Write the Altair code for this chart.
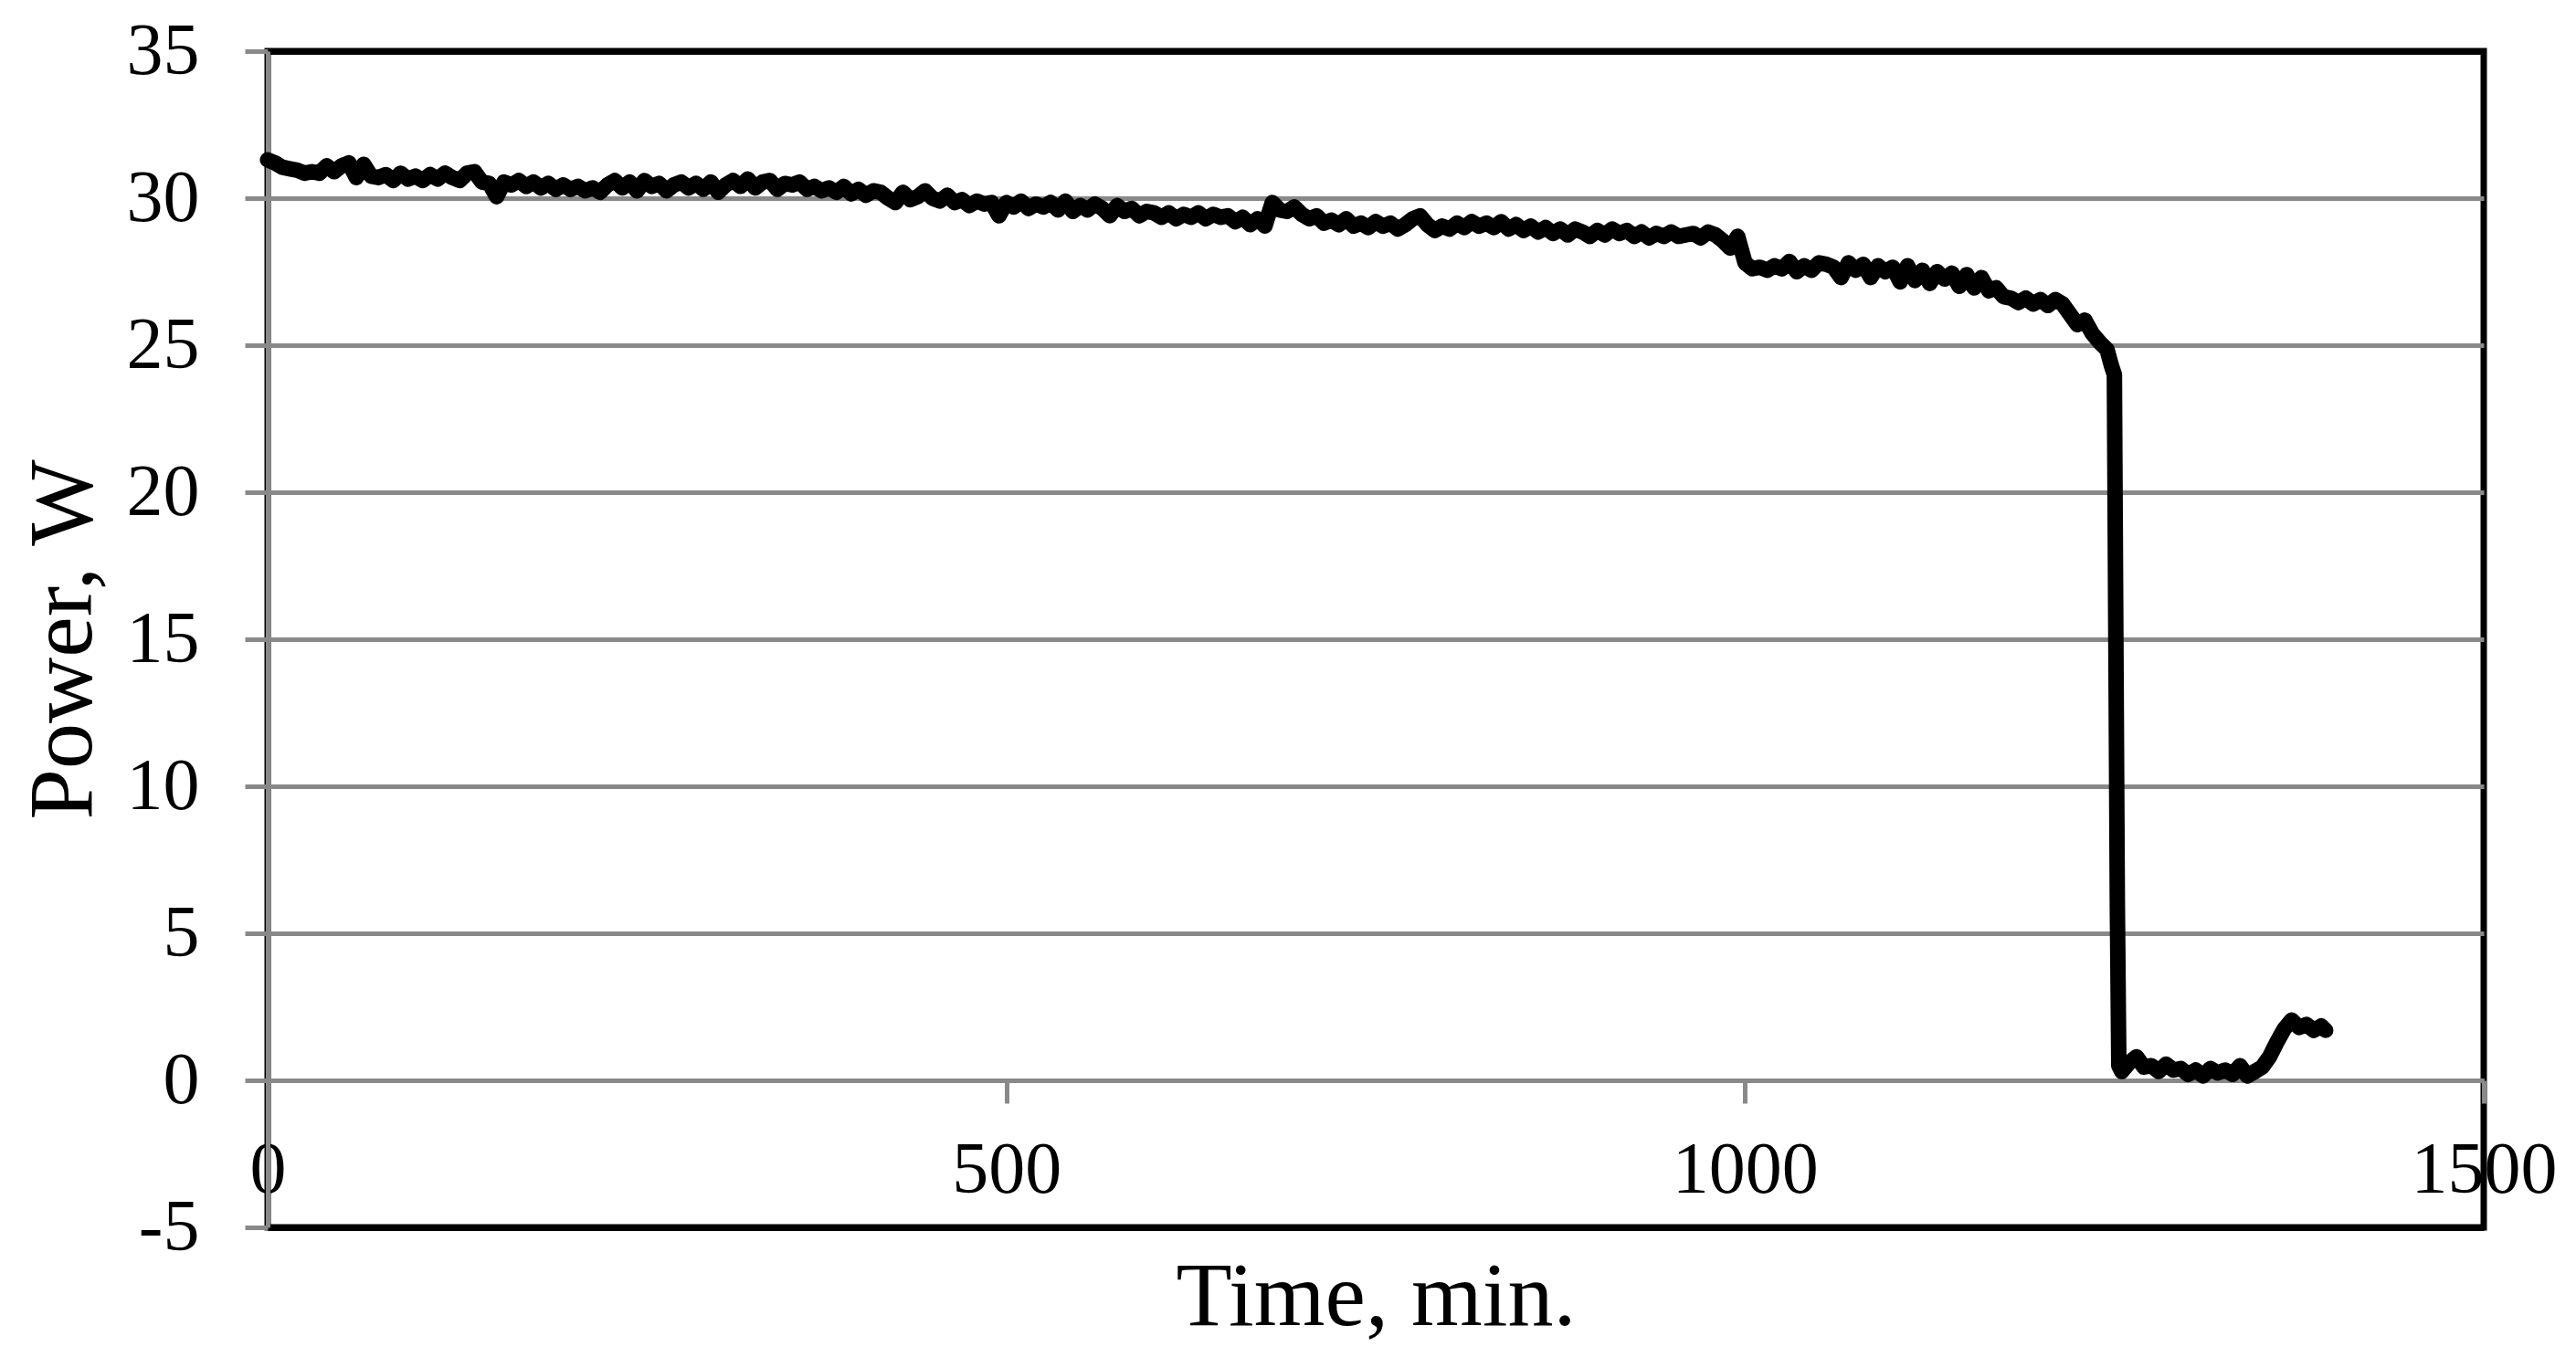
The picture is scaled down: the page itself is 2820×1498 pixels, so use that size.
import altair as alt
import pandas as pd

# ---- data ----
time_min = [
    0, 5, 10, 15, 20, 25, 30, 35, 40, 45,
    50, 55, 60, 65, 70, 75, 80, 85, 90, 95,
    100, 105, 110, 115, 120, 125, 130, 135, 140, 145,
    150, 155, 160, 165, 170, 175, 180, 185, 190, 195,
    200, 205, 210, 215, 220, 225, 230, 235, 240, 245,
    250, 255, 260, 265, 270, 275, 280, 285, 290, 295,
    300, 305, 310, 315, 320, 325, 330, 335, 340, 345,
    350, 355, 360, 365, 370, 375, 380, 385, 390, 395,
    400, 405, 410, 415, 420, 425, 430, 435, 440, 445,
    450, 455, 460, 465, 470, 475, 480, 485, 490, 495,
    500, 505, 510, 515, 520, 525, 530, 535, 540, 545,
    550, 555, 560, 565, 570, 575, 580, 585, 590, 595,
    600, 605, 610, 615, 620, 625, 630, 635, 640, 645,
    650, 655, 660, 665, 670, 675, 680, 685, 690, 695,
    700, 705, 710, 715, 720, 725, 730, 735, 740, 745,
    750, 755, 760, 765, 770, 775, 780, 785, 790, 795,
    800, 805, 810, 815, 820, 825, 830, 835, 840, 845,
    850, 855, 860, 865, 870, 875, 880, 885, 890, 895,
    900, 905, 910, 915, 920, 925, 930, 935, 940, 945,
    950, 955, 960, 965, 970, 975, 980, 985, 990, 995,
    1000, 1005, 1010, 1015, 1020, 1025, 1030, 1035, 1040, 1045,
    1050, 1055, 1060, 1065, 1070, 1075, 1080, 1085, 1090, 1095,
    1100, 1105, 1110, 1115, 1120, 1125, 1130, 1135, 1140, 1145,
    1150, 1155, 1160, 1165, 1170, 1175, 1180, 1185, 1190, 1195,
    1200, 1205, 1210, 1215, 1220, 1225, 1230, 1235, 1240, 1245,
    1248, 1250, 1251, 1252, 1253, 1255, 1260, 1265, 1270, 1275,
    1280, 1285, 1290, 1295, 1300, 1305, 1310, 1315, 1320, 1325,
    1330, 1335, 1340, 1345, 1350, 1355, 1360, 1365, 1370, 1375,
    1380, 1385, 1390, 1393,
]

power_w = [
    31.3, 31.2, 31.05, 31.0, 30.95, 30.85, 30.9, 30.85, 31.1, 30.9,
    31.1, 31.2, 30.7, 31.15, 30.75, 30.7, 30.8, 30.6, 30.85, 30.65,
    30.75, 30.6, 30.8, 30.65, 30.85, 30.7, 30.6, 30.85, 30.9, 30.55,
    30.5, 30.05, 30.55, 30.45, 30.6, 30.4, 30.55, 30.35, 30.5, 30.3,
    30.45, 30.3, 30.4, 30.25, 30.35, 30.2, 30.45, 30.6, 30.35, 30.55,
    30.25, 30.6, 30.4, 30.5, 30.25, 30.45, 30.55, 30.35, 30.5, 30.3,
    30.55, 30.2, 30.45, 30.6, 30.4, 30.65, 30.35, 30.55, 30.6, 30.3,
    30.5, 30.45, 30.55, 30.3, 30.4, 30.25, 30.35, 30.2, 30.4, 30.15,
    30.3, 30.1, 30.25, 30.2, 30.0, 29.85, 30.2, 29.95, 30.05, 30.25,
    30.0, 29.9, 30.1, 29.85, 29.95, 29.75, 29.9, 29.8, 29.85, 29.4,
    29.85, 29.7, 29.9, 29.65, 29.8, 29.7, 29.85, 29.6, 29.9, 29.55,
    29.75, 29.6, 29.8, 29.65, 29.4, 29.75, 29.55, 29.65, 29.4, 29.55,
    29.5, 29.35, 29.5, 29.3, 29.45, 29.35, 29.5, 29.3, 29.45, 29.35,
    29.4, 29.2, 29.35, 29.1, 29.3, 29.05, 29.85, 29.6, 29.55, 29.7,
    29.45, 29.3, 29.4, 29.15, 29.25, 29.1, 29.3, 29.05, 29.15, 29.0,
    29.2, 29.05, 29.15, 28.95, 29.1, 29.3, 29.4, 29.1, 28.9, 29.05,
    28.95, 29.15, 29.0, 29.2, 29.05, 29.15, 29.0, 29.2, 28.95, 29.1,
    28.9, 29.05, 28.85, 29.0, 28.8, 28.95, 28.75, 28.95, 28.85, 28.7,
    28.9, 28.75, 28.95, 28.8, 28.9, 28.7, 28.85, 28.65, 28.8, 28.7,
    28.85, 28.7, 28.75, 28.8, 28.65, 28.85, 28.75, 28.55, 28.3, 28.7,
    27.8, 27.6, 27.65, 27.55, 27.7, 27.6, 27.85, 27.5, 27.7, 27.55,
    27.8, 27.75, 27.65, 27.3, 27.8, 27.55, 27.75, 27.3, 27.7, 27.5,
    27.65, 27.15, 27.7, 27.2, 27.55, 27.1, 27.5, 27.25, 27.45, 27.0,
    27.4, 26.95, 27.3, 26.85, 26.95, 26.65, 26.6, 26.45, 26.6, 26.4,
    26.55, 26.35, 26.55, 26.4, 26.05, 25.7, 25.85, 25.4, 25.1, 24.85,
    24.3, 24.0, 15.0, 6.0, 0.5, 0.3, 0.6, 0.8, 0.45, 0.5,
    0.3, 0.55, 0.35, 0.4, 0.2, 0.35, 0.15, 0.4, 0.25, 0.35,
    0.2, 0.5, 0.15, 0.3, 0.45, 0.8, 1.3, 1.75, 2.05, 1.8,
    1.9, 1.7, 1.85, 1.7,
]

x_ticks = [0, 500, 1000, 1500]
y_ticks = [-5, 0, 5, 10, 15, 20, 25, 30, 35]

df = pd.DataFrame({"time": time_min, "power": power_w})

W, H = 2426, 1288
GRAY = "#898989"
FONT = "Liberation Serif"

x_enc = alt.X(
    "time:Q",
    scale=alt.Scale(domain=[0, 1500], nice=False, zero=False),
    axis=alt.Axis(
        values=x_ticks,
        title="Time, min.",
        offset=-H / 8,
        grid=False,
        domain=True,
        domainColor=GRAY,
        domainWidth=5,
        ticks=True,
        tickColor=GRAY,
        tickWidth=5,
        tickSize=25,
        labelFont=FONT,
        labelFontSize=80,
        labelColor="black",
        labelBaseline="middle",
        labelPadding=73,
        labelExpr="'' + datum.value",
        labelLimit=1000,
        labelFlush=False,
        labelOverlap=False,
        titleFont=FONT,
        titleFontSize=100,
        titleFontWeight="normal",
        titleColor="black",
        titleBaseline="alphabetic",
        titleY=267,
    ),
)

y_enc = alt.Y(
    "power:Q",
    scale=alt.Scale(domain=[-5, 35], nice=False, zero=False),
    axis=alt.Axis(
        values=y_ticks,
        title="Power, W",
        grid=True,
        gridColor=alt.condition(
            "datum.value >= 35 || datum.value <= -5", alt.value("black"), alt.value(GRAY)
        ),
        gridWidth=alt.condition(
            "datum.value >= 35 || datum.value <= -5", alt.value(7), alt.value(5)
        ),
        domain=True,
        domainColor=GRAY,
        domainWidth=5,
        ticks=True,
        tickColor=GRAY,
        tickWidth=5,
        tickSize=25,
        labelFont=FONT,
        labelFontSize=80,
        labelColor="black",
        labelPadding=50,
        labelExpr="'' + datum.value",
        labelLimit=1000,
        labelFlush=False,
        labelOverlap=False,
        titleFont=FONT,
        titleFontSize=100,
        titleFontWeight="normal",
        titleColor="black",
        titleAngle=270,
        titleBaseline="alphabetic",
        titleAlign="center",
        titleX=-194,
        titleY=H / 2,
    ),
)

chart = (
    alt.Chart(df)
    .mark_line(color="black", strokeWidth=17, strokeCap="round", strokeJoin="round")
    .encode(x=x_enc, y=y_enc)
    .properties(
        width=W,
        height=H,
        autosize=alt.AutoSizeParams(type="none"),
        padding={"left": 285, "top": 48, "right": 90, "bottom": 140},
        background="white",
    )
    .configure_view(stroke="black", strokeWidth=7)
)

chart.save("out.html", embed_options={"renderer": "svg", "actions": False})
